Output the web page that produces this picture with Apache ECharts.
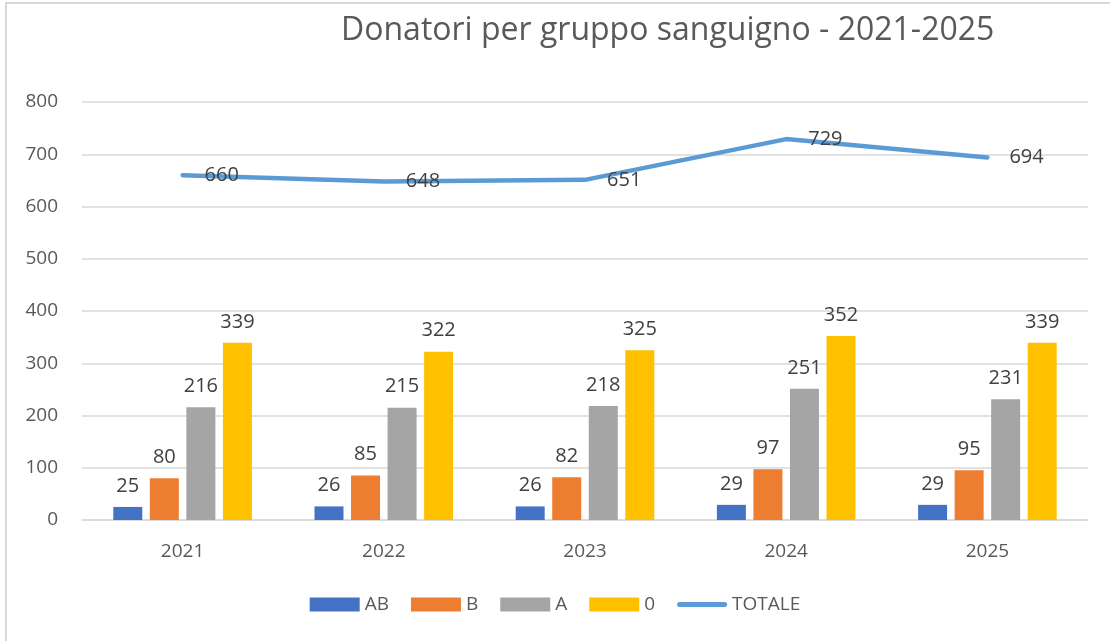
<!DOCTYPE html>
<html><head><meta charset="utf-8">
<script src="https://cdn.jsdelivr.net/npm/echarts@6/dist/echarts.min.js"></script>
<style>
html,body{margin:0;padding:0;background:#fff;}
#frame{position:absolute;left:5px;top:2px;width:1105px;height:639px;border-left:2px solid #d9d9d9;border-top:2px solid #d9d9d9;box-sizing:border-box;}
#c{position:absolute;left:0;top:0;width:1110px;height:641px;}
</style></head>
<body><div id="frame"></div><div id="c"></div>
<script>
const categories = ['2021','2022','2023','2024','2025'];
const AB = [25,26,26,29,29];
const B = [80,85,82,97,95];
const A = [216,215,218,251,231];
const Zero = [339,322,325,352,339];
const TOTALE = [660,648,651,729,694];
const yTicks = [0,100,200,300,400,500,600,700,800];

const FONT = '"Open Sans", "Liberation Sans", sans-serif';
const chart = echarts.init(document.getElementById('c'));
const barLabel = {show:true, position:'top', distance:11, color:'#404040', fontSize:20, fontFamily:FONT};
function bar(name, data, color){
  return {name, type:'bar', data, barWidth:29, barGap:'26%', itemStyle:{color}, label:barLabel};
}
const lineIcon = 'path://M2.5,4.5 L47.5,4.5 A2.5,2.5 0 0 1 47.5,9.5 L2.5,9.5 A2.5,2.5 0 0 1 2.5,4.5 Z';
chart.setOption({
  animation:false,
  title:{text:'Donatori per gruppo sanguigno - 2021-2025', left:336, top:10,
    textStyle:{fontFamily:FONT, fontSize:32, fontWeight:'normal', color:'#595959'}},
  grid:{left:82, right:22, top:102, bottom:121},
  legend:{bottom:22, left:'center', itemWidth:50, itemHeight:14, itemGap:22,
    textStyle:{fontFamily:FONT, fontSize:19, color:'#595959'},
    data:[{name:'AB',icon:'rect'},{name:'B',icon:'rect'},{name:'A',icon:'rect'},{name:'0',icon:'rect'},{name:'TOTALE', icon:lineIcon}]},
  xAxis:{type:'category', data:categories,
    axisLine:{lineStyle:{color:'#d9d9d9', width:1.5}}, axisTick:{show:false},
    axisLabel:{fontFamily:FONT, fontSize:19, color:'#595959', margin:22}},
  yAxis:{type:'value', min:yTicks[0], max:yTicks[yTicks.length-1], interval:100,
    axisLine:{show:false}, axisTick:{show:false},
    splitLine:{lineStyle:{color:'#d9d9d9', width:1.5}},
    axisLabel:{fontFamily:FONT, fontSize:19, color:'#595959', margin:24}},
  series:[
    bar('AB', AB, '#4472C4'),
    bar('B', B, '#ED7D31'),
    bar('A', A, '#A5A5A5'),
    bar('0', Zero, '#FFC000'),
    {name:'TOTALE', type:'line', data:TOTALE, symbol:'circle', symbolSize:0.01, showSymbol:true,
      lineStyle:{color:'#5B9BD5', width:4.5, cap:'round'}, itemStyle:{color:'#5B9BD5'},
      label:{show:true, position:'right', distance:22, color:'#404040', fontSize:20, fontFamily:FONT}}
  ]
});
</script></body></html>
